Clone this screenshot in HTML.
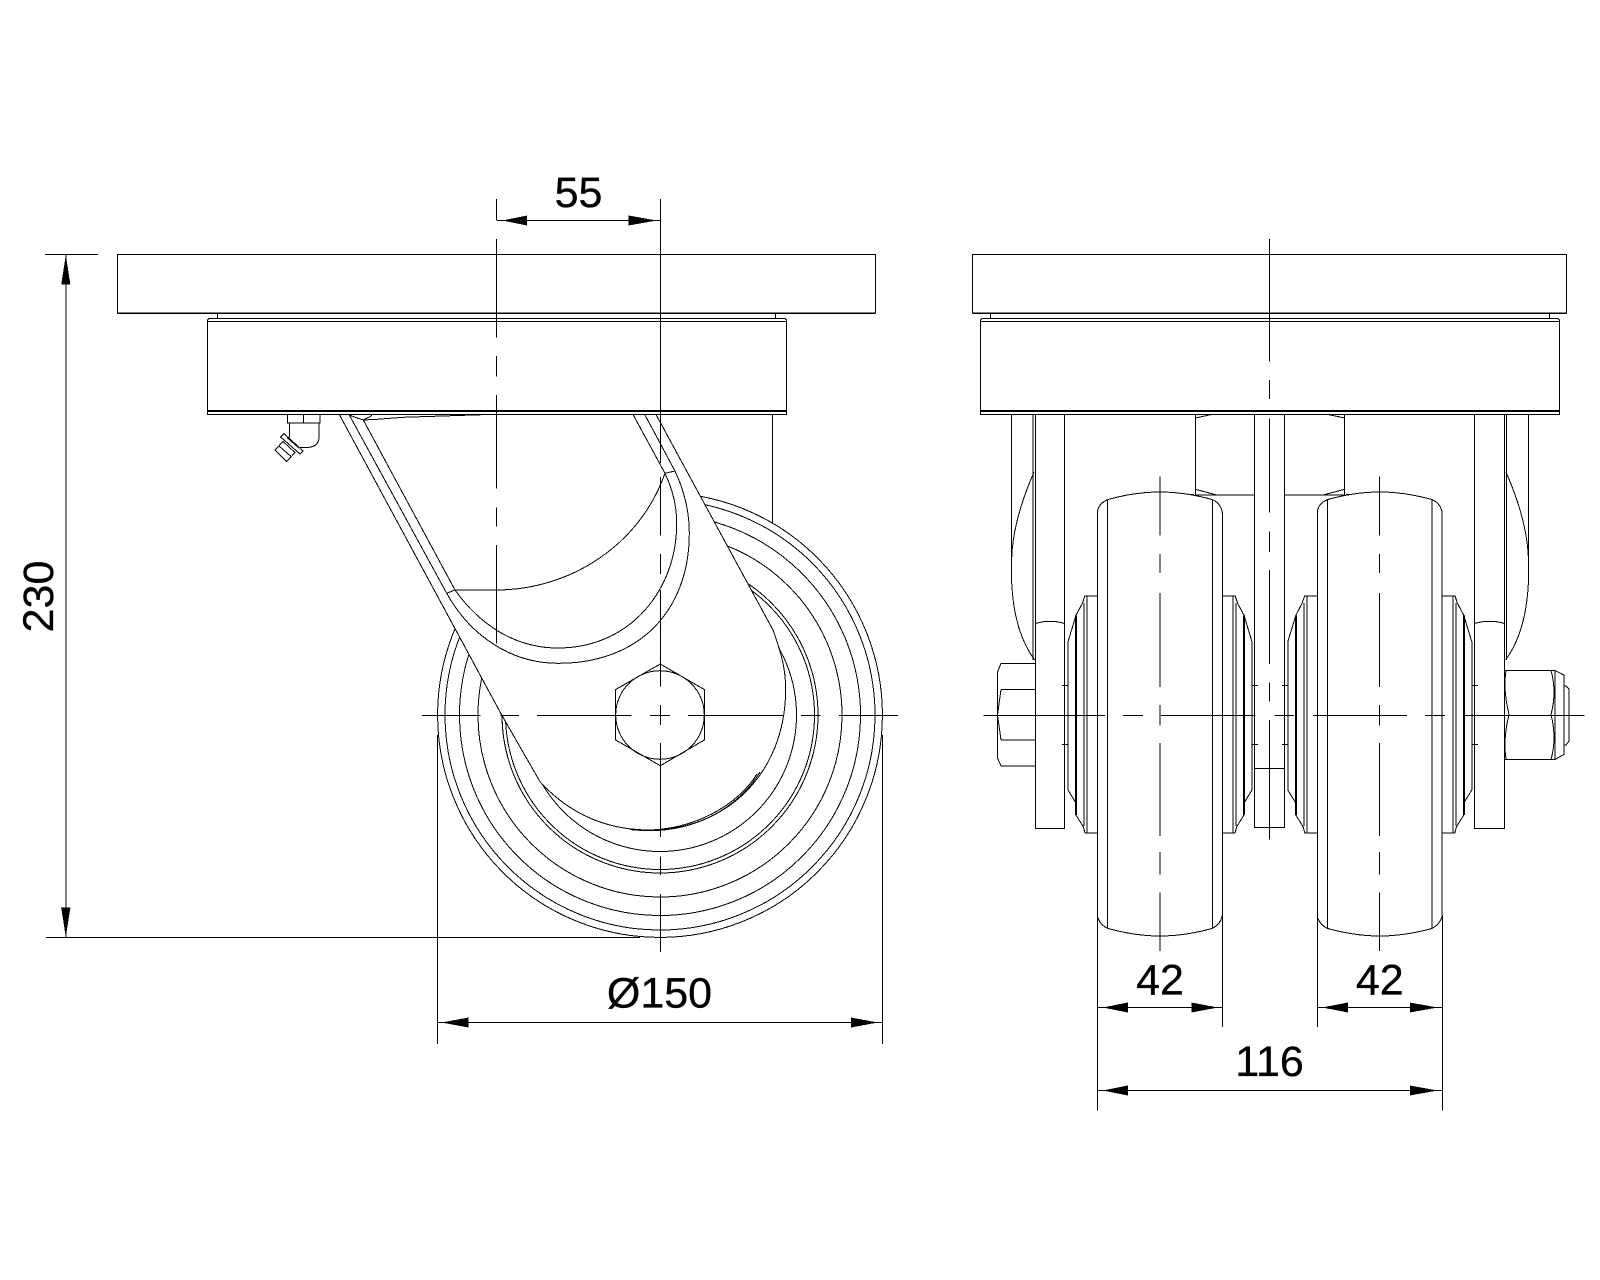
<!DOCTYPE html>
<html><head><meta charset="utf-8"><style>
html,body{margin:0;padding:0;background:#fff}
svg{display:block}
.l{fill:none;stroke:#000;stroke-width:1}
.w{fill:#fff;stroke:#000;stroke-width:1}
.t{stroke:#000;stroke-width:2;fill:none}
text{font-family:"Liberation Sans",sans-serif;font-size:43px;fill:#000;stroke:#000;stroke-width:.3}
</style></head><body>
<svg xmlns="http://www.w3.org/2000/svg" width="1600" height="1280" viewBox="0 0 1600 1280" shape-rendering="crispEdges">
<rect width="1600" height="1280" fill="#fff"/>

<!-- LEFT VIEW -->
<g class="l">
<!-- wheel circles -->
<circle cx="660" cy="715" r="222.4"/>
<circle cx="660" cy="715" r="215"/>
<circle cx="660" cy="715" r="200.5"/>
<circle cx="660" cy="715" r="182"/>
<circle cx="660" cy="715" r="158"/>
<circle cx="660" cy="715" r="154.5"/>
<circle cx="660" cy="715" r="136.5"/>
<!-- housing line -->
<path d="M772.5,414.5V523.5"/>
</g>
<path class="w" stroke-width="1" d="M339.3,414.5 L501.7,715 L540,781.7 C575,820 615,830 650,830 C725,830 785,775 785.7,690 C785.7,670 782,655 773,630 L656,414.5 Z"/>
<g class="l">
<!-- fork inner -->
<path d="M349.3,415 L446.7,593.3 C470,635 510,663.3 558.3,663.3 C640,663.3 689.3,610 689.3,533.3 C689.3,510 683,488 675,471 L645,415"/>
<path d="M363.3,420 L455,590 C480,625 515,648 558,648 C630,648 677,590 676.7,523 C676.7,505 672,488 665,473.3 L633.3,415"/>
<path d="M455,590 H496.3 C570,590 640,545 665,473.3"/>
<path d="M446.7,593.3 L455,590 M665,473.3 L675,471"/>
<path d="M349.3,415 L357,418 L363.3,420 L370,416.7 L372,415"/>
<path d="M363.3,420 L376.7,419.3 L403,417.3 L482,414.7"/>
<path d="M630,829.5 C695,837 740,805 760,772"/>
<path d="M632,829.8 C695,834 740,802 757,774"/>
<!-- hex nut -->
<path d="M660.3,664 L704.3,689.5 V740 L660.3,765.7 L615.7,740 V689.5 Z"/>
<circle cx="660" cy="715" r="44.3"/>
</g>

<!-- plates left -->
<g class="l">
<rect x="117.5" y="254.5" width="758" height="58.5"/>
<path d="M117.5,313.5H875.5"/>
<path d="M217.5,313V318.5 M775.5,313V318.5"/>
<path d="M207.5,414.5V320L209,318.5H785L786.5,320V414.5Z"/>
<path d="M207.5,321.5H786.5 M207.5,411.5H786.5 M207.5,410.7H786.5"/>
</g>

<!-- grease nipple -->
<g class="l">
<path d="M287.5,415V423H320V415 M303.5,415V423"/>
<path d="M289.5,423V437 M319,423V437 Q319,447 307,447.5 H300"/>
<path d="M284,433.5 L303,451 L300,454 L280.5,437 Z"/>
<path d="M275,450 L283,441.5 L295,452.5 L286.5,461.7 Z"/>
<path d="M279,446 L291,456.5 M283,441.5 L295,452.5 M287,437.5 L299,448"/>
</g>

<!-- left centre lines -->
<g class="l">
<path d="M496.4,199V220 M496.4,239V337.7 M496.4,356V376.5 M496.4,395V488.3 M496.4,507.3V526.7 M496.4,545V643.3"/>
<path d="M660.5,199V463 M660.5,477V535.7 M660.5,554V574 M660.5,590V686.7 M660.5,705V725 M660.5,743V837 M660.5,856.7V875 M660.5,894V952"/>
<path d="M422,715.5H480.7 M500.7,715.5H519 M537,715.5H631.7 M650,715.5H670 M688,715.5H783 M801,715.5H820.7 M839,715.5H898"/>
</g>

<!-- left dimensions -->
<g class="l">
<path d="M496.4,220.5H660.5"/>
<path d="M45,254.5H98 M65.8,254.5V937.5 M46,937.5H640"/>
<path d="M437.3,735V1044 M882.3,735V1044 M437.3,1022.5H882.3"/>
</g>
<g fill="#000" stroke="none">
<polygon points="502.5,220.5 527,215.5 527,225.5"/>
<polygon points="656.6,220.5 628.6,215.5 628.6,225.5"/>
<polygon points="65.8,255 61.2,284.7 70.4,284.7"/>
<polygon points="65.8,937 61.2,907.5 70.4,907.5"/>
<polygon points="441.7,1022.5 468.3,1017.5 468.3,1027.5"/>
<polygon points="878,1022.5 851,1017.5 851,1027.5"/>
</g>
<text x="578.5" y="207" text-anchor="middle">55</text>
<text x="659.5" y="1007.5" text-anchor="middle">Ø150</text>
<text transform="translate(53,596.5) rotate(-90)" text-anchor="middle">230</text>

<!-- RIGHT VIEW -->
<g class="l">
<!-- arms -->
<path d="M1011.7,414.5V558 V583 Q1014,632 1034.7,660 M1034,472 Q1013,520 1011.7,558"/>
<path d="M1033,414.5V660 M1035.7,414.5V828.5H1064.4V414.5"/>
<path d="M1035.7,623.5 Q1050,619 1064.4,623.5"/>
<path d="M1528.4,414.5V558 V583 Q1526,632 1505.6,660 M1506,472 Q1527,520 1528.4,558"/>
<path d="M1506.7,414.5V660 M1504.5,414.5V828.5H1474.5V414.5"/>
<path d="M1474.5,623.5 Q1490,619 1504.5,623.5"/>
<!-- bolt head -->
<path d="M1035.7,663.5H1001L997.5,672 V758 L1001,766 H1035.7 M1001,689.5H1035.7 M1001,740H1035.7"/>
<path d="M1001,689.5 L997.5,715 L1001,740"/>
<!-- nut -->
<path d="M1504.5,670.5H1555 L1563.8,675 V754.5 L1555,759.5 H1504.5 M1563.8,686 H1566 L1569,689 V741 L1566,745 H1563.8"/>
<path d="M1506,670.5 Q1503,690 1509,714.5 Q1503,738 1506,759.5 M1551,670.5 Q1557,692 1551,714.5 Q1557,738 1551,759.5 M1555,670.5 V759.5"/>
<!-- hex block -->
<path class="w" d="M1195.4,414.5H1344.7V495H1195.4Z"/>
<path d="M1195.4,418 L1211.7,414.5 M1344.7,418 L1328,414.5 M1195.4,489.3 L1216.7,495 M1344.7,489.3 L1323,495"/>
<path d="M1180,494.7 H1194 M1346,494.7 H1360"/>
<!-- centre plate -->
<rect class="w" x="1254.4" y="414.5" width="30" height="413"/>
<path d="M1254.4,768.5H1284.4"/>
</g>

<!-- wheels and hubs -->
<defs>
<g id="hub" class="l">
<path d="M62.4,596H75.2L77.5,603L84,615.3 L92,641.8V790L84,803V815L76.7,826.7L75,833H62.4"/>
<path d="M73,596V833 M76,603V826"/>
<path class="t" d="M84,615.3V815"/>
<path d="M92,685.5H98 M92,744.5H98"/>
</g>
<g id="wheel">
<use href="#hub"/>
<use href="#hub" transform="scale(-1,1)"/>
<path class="w" d="M-62.4,917 V511 Q-61,503 -52,499.5 Q-25,492 0,492 Q25,492 52,499.5 Q61,503 62.4,513 V915 Q61,924 52,928.5 Q25,936 0,936 Q-25,936 -52,928.5 Q-60,925 -62.4,917 Z"/>
<path class="l" d="M-52.3,499.5V928.5 M52.3,499.5V928.5"/>
</g>
</defs>
<use href="#wheel" transform="translate(1160,0)"/>
<use href="#wheel" transform="translate(1379.8,0)"/>

<!-- upper plates right -->
<g class="l">
<rect x="972.5" y="254.5" width="594" height="58.5"/>
<path d="M972.5,313.5H1566.5"/>
<path d="M990.5,313V318.5 M1549.5,313V318.5"/>
<path d="M980.5,414.5V320L982,318.5H1558L1559.5,320V414.5Z"/>
<path d="M980.5,321.5H1559.5 M980.5,411.5H1559.5 M980.5,410.7H1559.5"/>
</g>

<!-- right centre lines -->
<g class="l">
<path d="M1269.4,239V361.4 M1269.4,379.8V399 M1269.4,418.3V512.3 M1269.4,531.7V552 M1269.4,570V664 M1269.4,682.3V701.7 M1269.4,720V839.3"/>
<path d="M1159.8,476.5V535.7 M1159.8,554V573 M1159.8,593V687 M1159.8,705V725.5 M1159.8,743V836 M1159.8,852V874.4 M1159.8,892.6V951"/>
<path d="M1379.7,476.5V535.7 M1379.7,554V573 M1379.7,593V687 M1379.7,705V725.5 M1379.7,743V836 M1379.7,852V874.4 M1379.7,892.6V951"/>
<path d="M983.7,715.5H1105 M1123,715.5H1142.9 M1161,715.5H1255.6 M1274.5,715.5H1294 M1312.8,715.5H1407 M1425,715.5H1445 M1464,715.5H1584.7"/>
</g>

<!-- right dimensions -->
<g class="l">
<path d="M1097.6,917V1110.5 M1222.4,915V1027 M1317.6,917V1027 M1442.4,915V1110.5"/>
<path d="M1097.6,1007.5H1222.4 M1317.6,1007.5H1442.4 M1097.6,1090.5H1442.4"/>
</g>
<g fill="#000" stroke="none">
<polygon points="1102.9,1007.5 1128,1002.5 1128,1012.5"/>
<polygon points="1218,1007.5 1191.4,1002.5 1191.4,1012.5"/>
<polygon points="1322.4,1007.5 1347.8,1002.5 1347.8,1012.5"/>
<polygon points="1437.6,1007.5 1409.8,1002.5 1409.8,1012.5"/>
<polygon points="1102.9,1090.5 1128,1085.5 1128,1095.5"/>
<polygon points="1437.6,1090.5 1409.8,1085.5 1409.8,1095.5"/>
</g>
<text x="1160" y="994.5" text-anchor="middle">42</text>
<text x="1379.8" y="994.5" text-anchor="middle">42</text>
<text x="1269.5" y="1076" text-anchor="middle">116</text>
</svg>
</body></html>
